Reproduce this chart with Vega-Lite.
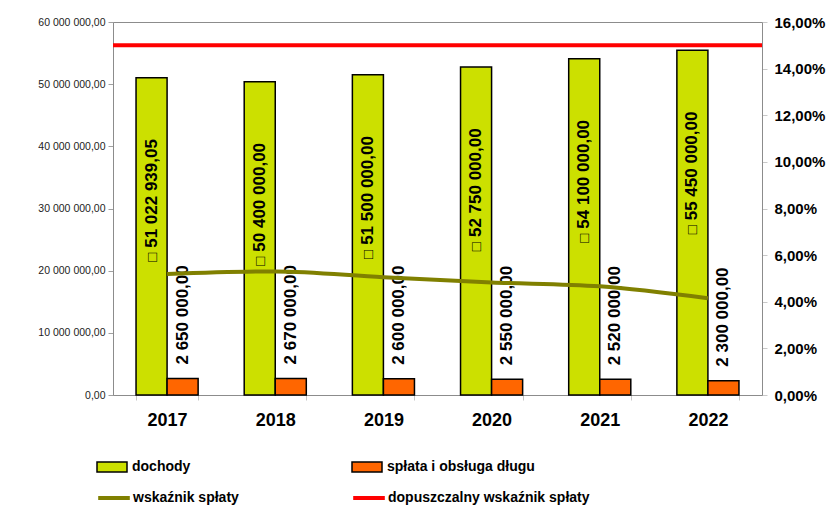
{
  "$schema": "https://vega.github.io/schema/vega-lite/v6.json",
  "width": 649,
  "height": 373,
  "autosize": {"type": "none"},
  "padding": {"left": 113, "top": 22, "right": 69, "bottom": 116},
  "background": "white",
  "config": {
    "locale": {"number": {"decimal": ",", "thousands": " ", "grouping": [3], "currency": ["", ""]}},
    "font": "Liberation Sans",
    "view": {"stroke": "#8c8c8c", "strokeWidth": 1}
  },
  "datasets": {
    "bars": [
      {"year": "2017", "series": "dochody", "value": 51022939.05},
      {"year": "2017", "series": "spłata i obsługa długu", "value": 2650000},
      {"year": "2018", "series": "dochody", "value": 50400000},
      {"year": "2018", "series": "spłata i obsługa długu", "value": 2670000},
      {"year": "2019", "series": "dochody", "value": 51500000},
      {"year": "2019", "series": "spłata i obsługa długu", "value": 2600000},
      {"year": "2020", "series": "dochody", "value": 52750000},
      {"year": "2020", "series": "spłata i obsługa długu", "value": 2550000},
      {"year": "2021", "series": "dochody", "value": 54100000},
      {"year": "2021", "series": "spłata i obsługa długu", "value": 2520000},
      {"year": "2022", "series": "dochody", "value": 55450000},
      {"year": "2022", "series": "spłata i obsługa długu", "value": 2300000}
    ],
    "ratio": [
      {"year": "2017", "ratio": 0.0519},
      {"year": "2018", "ratio": 0.0530},
      {"year": "2019", "ratio": 0.0505},
      {"year": "2020", "ratio": 0.0483},
      {"year": "2021", "ratio": 0.0466},
      {"year": "2022", "ratio": 0.0415}
    ],
    "limit": [{"ratio": 0.15}]
  },
  "layer": [
    {
      "data": {"name": "bars"},
      "encoding": {
        "x": {
          "field": "year", "type": "nominal",
          "scale": {"paddingInner": 0.426, "paddingOuter": 0.213},
          "axis": {
            "title": null, "labelAngle": 0, "labelFontSize": 18, "labelFontWeight": "bold",
            "labelColor": "black", "labelPadding": 11, "tickBand": "extent", "tickSize": 5,
            "tickColor": "#c8c8c8", "domainColor": "#8c8c8c", "grid": false
          }
        },
        "xOffset": {
          "field": "series", "type": "nominal",
          "scale": {"domain": ["dochody", "spłata i obsługa długu"], "paddingInner": 0, "paddingOuter": 0}
        },
        "y": {
          "field": "value", "type": "quantitative",
          "scale": {"domain": [0, 60000000], "nice": false},
          "axis": {
            "title": null, "orient": "left", "values": [0, 10000000, 20000000, 30000000, 40000000, 50000000, 60000000],
            "format": ",.2f", "labelFontSize": 10.5, "labelColor": "#222", "labelPadding": 3,
            "tickSize": 5, "tickColor": "#a0a0a0", "domainColor": "#8c8c8c", "grid": false
          }
        }
      },
      "layer": [
        {
          "mark": {"type": "bar", "stroke": "black", "strokeWidth": 1.5},
          "encoding": {
            "fill": {
              "field": "series", "type": "nominal",
              "scale": {
                "domain": ["dochody", "spłata i obsługa długu"],
                "range": ["#CCE000", "#FF6600"]
              },
              "legend": {
                "orient": "none", "legendX": -17, "legendY": 429, "direction": "horizontal",
                "title": null, "labelFontSize": 14, "labelFontWeight": "bold", "labelColor": "black",
                "symbolType": "M-1,-0.33H1V0.33H-1Z", "symbolSize": 900, "symbolStrokeColor": "black",
                "symbolStrokeWidth": 1.5, "symbolOpacity": 1,
                "labelOffset": 4, "columnPadding": 158, "padding": 0, "labelLimit": 400
              }
            }
          }
        },
        {
          "transform": [{"filter": "datum.series == 'dochody'"}],
          "mark": {"type": "text", "angle": 270, "align": "left", "baseline": "middle", "dx": -170, "fontSize": 17, "fontWeight": "bold", "color": "black"},
          "encoding": {"text": {"field": "value", "type": "quantitative", "format": ",.2f"}}
        },
        {
          "transform": [{"filter": "datum.series == 'dochody'"}],
          "mark": {"type": "text", "text": "□", "angle": 270, "align": "right", "baseline": "middle", "dx": -175, "fontSize": 15, "color": "black"}
        },
        {
          "transform": [{"filter": "datum.series == 'spłata i obsługa długu'"}],
          "mark": {"type": "text", "angle": 270, "align": "left", "baseline": "middle", "dx": 14, "fontSize": 17, "fontWeight": "bold", "color": "black"},
          "encoding": {"text": {"field": "value", "type": "quantitative", "format": ",.2f"}}
        }
      ]
    },
    {
      "encoding": {
        "y": {
          "field": "ratio", "type": "quantitative",
          "scale": {"domain": [0, 0.16], "nice": false},
          "axis": {
            "title": null, "orient": "right", "values": [0, 0.02, 0.04, 0.06, 0.08, 0.1, 0.12, 0.14, 0.16],
            "format": ".2%", "labelFontSize": 15, "labelFontWeight": "bold", "labelColor": "black",
            "labelPadding": 7, "tickSize": 5, "tickColor": "#c8c8c8", "domainColor": "#8c8c8c", "grid": false
          }
        }
      },
      "layer": [
        {
          "data": {"name": "ratio"},
          "mark": {"type": "line", "strokeWidth": 4, "interpolate": "monotone"},
          "encoding": {
            "x": {"field": "year", "type": "nominal"},
            "stroke": {
              "datum": "wskaźnik spłaty",
              "scale": {
                "domain": ["wskaźnik spłaty", "dopuszczalny wskaźnik spłaty"],
                "range": ["#808000", "#FF0000"]
              },
              "legend": {
                "orient": "none", "legendX": -17, "legendY": 458, "direction": "horizontal",
                "title": null, "labelFontSize": 14, "labelFontWeight": "bold", "labelColor": "black",
                "symbolType": "stroke", "symbolSize": 1000, "symbolStrokeWidth": 4, "symbolOpacity": 1,
                "labelOffset": 1, "columnPadding": 106, "padding": 0, "labelLimit": 400
              }
            }
          }
        },
        {
          "data": {"name": "limit"},
          "mark": {"type": "rule", "strokeWidth": 4},
          "encoding": {"stroke": {"datum": "dopuszczalny wskaźnik spłaty"}}
        }
      ]
    }
  ],
  "resolve": {"scale": {"y": "independent"}}
}
